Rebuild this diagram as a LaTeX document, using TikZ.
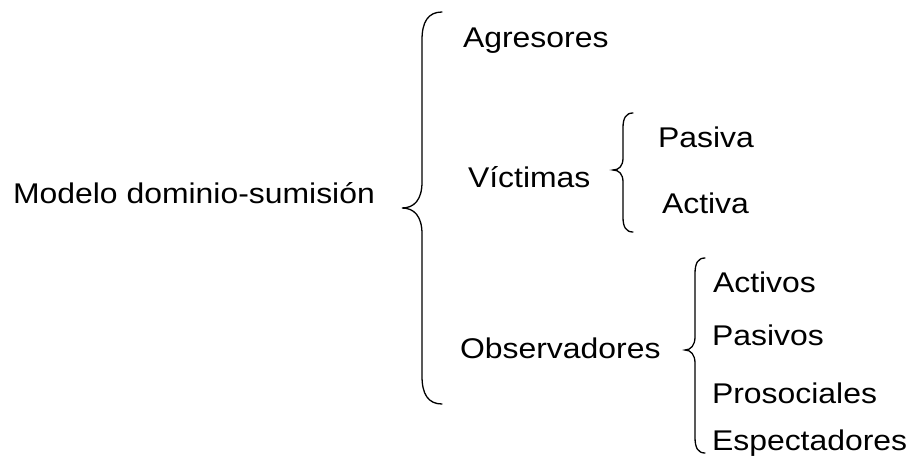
\documentclass[tikz,border=0pt]{standalone}
\usepackage{fontspec}
\setmainfont{Liberation Sans}
\begin{document}
\begin{tikzpicture}[x=1pt,y=-1pt,
  lbl/.style={anchor=base west,inner sep=0pt,outer sep=0pt,font=\fontsize{28.5}{32}\selectfont,xscale=1.12,transform shape},
  brace/.style={line width=1.3pt,line cap=round}]
\useasboundingbox (0,0) rectangle (911,460);
\node[lbl] (modelo) at (13,203) {Modelo dominio-sumisión};
\node[lbl] (agres) at (463,48) {Agresores};
\node[lbl] (vict) at (468,187) {Víctimas};
\node[lbl] (pasiva) at (658,147) {Pasiva};
\node[lbl] (activa) at (662,213) {Activa};
\node[lbl] (obs) at (460,358) {Observadores};
\node[lbl] (activos) at (713,292) {Activos};
\node[lbl] (pasivos) at (712,345) {Pasivos};
\node[lbl] (prosoc) at (712,403) {Prosociales};
\node[lbl] (espect) at (712,450) {Espectadores};
% brace 1
\draw[brace] (442,12) .. controls (428,12) and (422,22) .. (422,40) -- (422,182)
  .. controls (422,200) and (414,208) .. (402,208)
  .. controls (414,208) and (422,216) .. (422,234) -- (422,376)
  .. controls (422,394) and (428,404) .. (442,404);
% brace 2
\draw[brace] (633,113) .. controls (626,113) and (623,118) .. (623,128) -- (623,158)
  .. controls (623,166) and (619,170) .. (613,170)
  .. controls (619,170) and (623,174) .. (623,182) -- (623,217)
  .. controls (623,227) and (626,232) .. (633,232);
% brace 3
\draw[brace] (705,258) .. controls (698,258) and (695,263) .. (695,274) -- (695,337)
  .. controls (695,345) and (691,350) .. (685,350)
  .. controls (691,350) and (695,355) .. (695,363) -- (695,437)
  .. controls (695,448) and (698,453) .. (705,453);
\end{tikzpicture}
\end{document}
